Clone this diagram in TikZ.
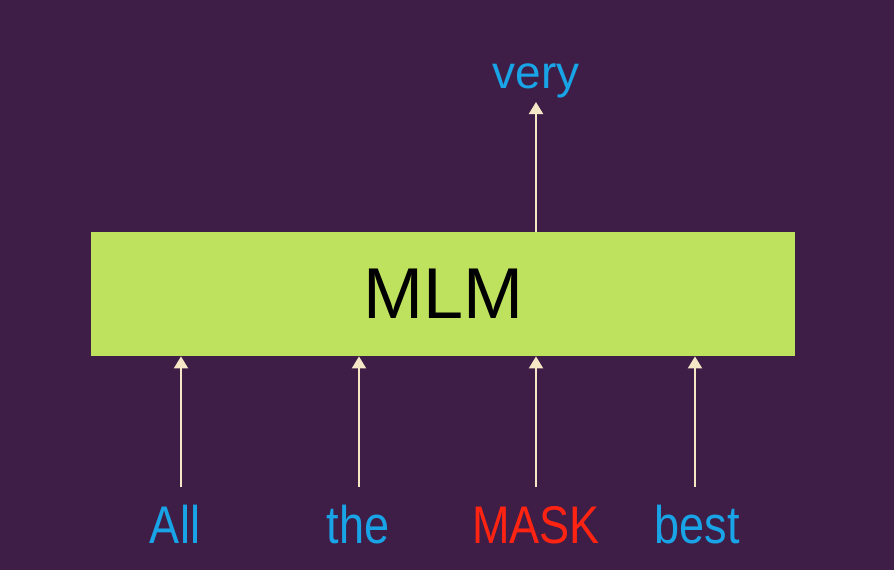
\documentclass[tikz,border=0pt]{standalone}
\usepackage{fontspec}
\setmainfont{Liberation Sans}
\usetikzlibrary{arrows.meta}
\definecolor{bgpurple}{HTML}{3E1D47}
\definecolor{boxgreen}{HTML}{BFE25E}
\definecolor{wordblue}{HTML}{18A4E6}
\definecolor{maskred}{HTML}{FF2412}
\definecolor{arrowcream}{HTML}{F6E8C6}
\tikzset{
  word/.style={text=wordblue, font=\fontsize{53}{60}\selectfont, xscale=0.85, inner sep=0, anchor=base},
  link/.style={draw=arrowcream, line width=2pt, -{Triangle[width=14pt,length=12pt]}},
}
\begin{document}
\begin{tikzpicture}[x=1pt,y=-1pt]
\fill[bgpurple] (0,0) rectangle (894,570);
\useasboundingbox (0,0) rectangle (894,570);
\node[fill=boxgreen, minimum width=704pt, minimum height=124pt, inner sep=0, anchor=north west,
      font=\fontsize{72}{80}\selectfont, text=black] (mlm) at (91,232) {MLM};
\node[word] (w1) at (175,543) {All};
\node[word] (w2) at (358,543) {the};
\node[word, text=maskred] (w3) at (536,543) {MASK};
\node[word] (w4) at (697,543) {best};
\node[text=wordblue, font=\fontsize{46}{52}\selectfont, inner sep=0, anchor=base] (out) at (536,88) {very};
\coordinate (s1) at (181,487);
\coordinate (s2) at (359,487);
\coordinate (s3) at (536,487);
\coordinate (s4) at (695,487);
\coordinate (top) at (536,102);
\foreach \i in {1,...,4} {
  \draw[link] (s\i) -- (s\i |- mlm.south);
}
\draw[link] (mlm.north -| top) -- (top);
\end{tikzpicture}
\end{document}
